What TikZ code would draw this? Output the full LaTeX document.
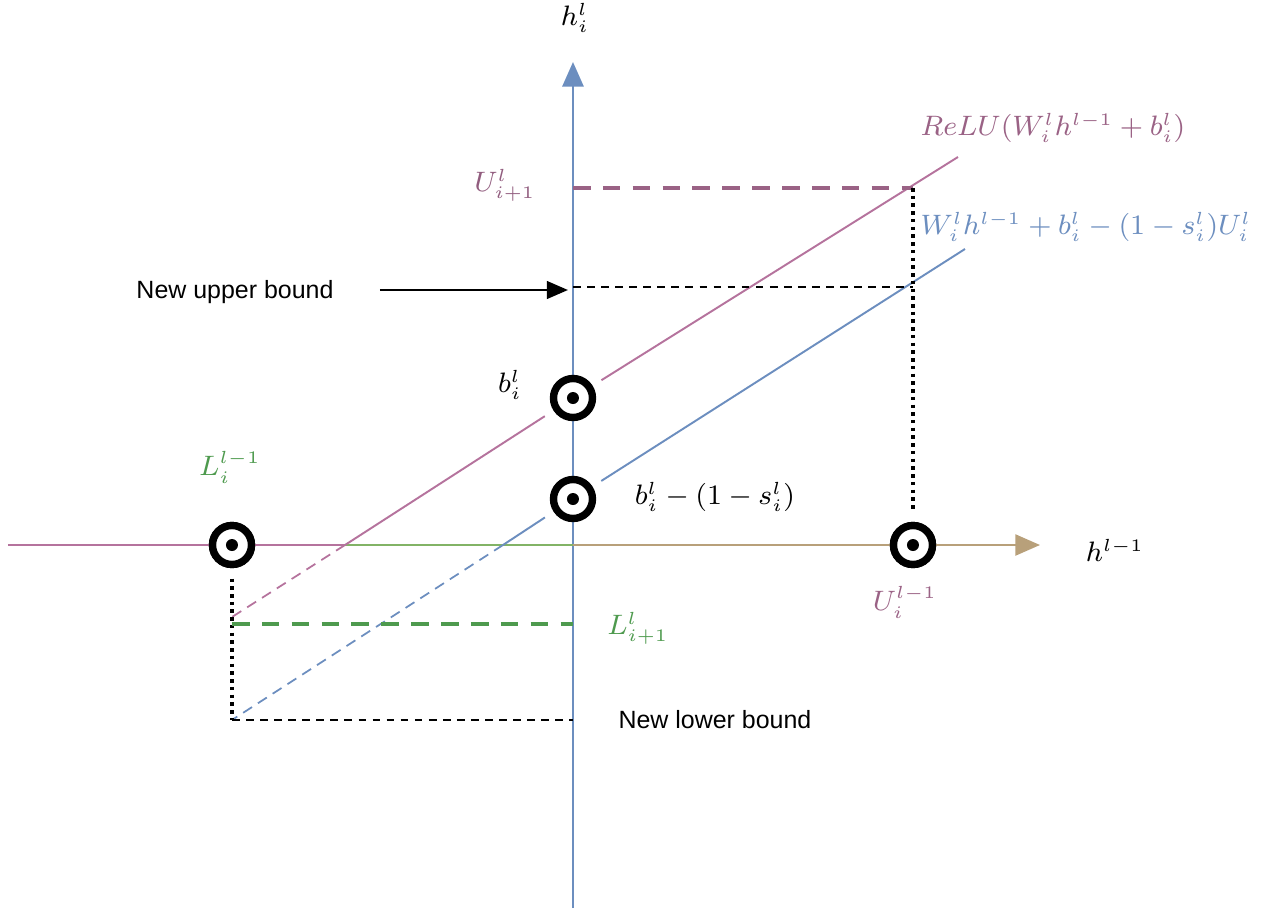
\documentclass[tikz,border=0pt]{standalone}
\usepackage{amsmath}
\usepackage{fontspec}
\newfontfamily\labelfont{Liberation Sans}
\usetikzlibrary{arrows.meta,positioning}
\definecolor{relu}{HTML}{B5739D}
\definecolor{lin}{HTML}{6C8EBF}
\definecolor{grn}{HTML}{82B366}
\definecolor{grnd}{HTML}{4E9A4E}
\definecolor{tan}{HTML}{B8A07A}

\begin{document}
\begin{tikzpicture}[every node/.style={font=\fontsize{7.8}{9.5}\selectfont},
  ax/.style={line width=0.75pt},
  pl/.style={line width=0.55pt},
  ext/.style={line width=0.5pt,dash pattern=on 3pt off 2pt},
  bnd/.style={line width=1.3pt,dash pattern=on 5pt off 3.5pt},
  gd/.style={line width=0.6pt,dash pattern=on 2.2pt off 1.8pt},
  vd/.style={line width=0.9pt,dash pattern=on 1pt off 1.2pt},
  pt/.style={circle,draw,line width=2.1pt,fill=white,minimum size=0.39cm,inner sep=0pt,outer sep=4pt,
    path picture={\fill[black] (path picture bounding box.center) circle (0.06);}},
  txt/.style={font=\labelfont\fontsize{7.1}{9}\selectfont}]
\useasboundingbox (-5.73,-3.66) rectangle (6.93,5.45);
\def\xl{-3.41}\def\xu{3.40}\def\yub{3.57}\def\ynu{2.58}\def\ylb{-0.79}\def\ynl{-1.75}
%------------- axes
\draw[ax,lin,-{Triangle[length=7pt,width=6pt]}] (0,-3.63) -- (0,4.83) coordinate (ytip);
\node (hy) at (0.02,5.27) {$h^l_i$};
\coordinate (O) at (0,0);
\coordinate (K) at (-2.28,0);
\coordinate (xs) at (-5.65,0);
\coordinate (xe) at (4.67,0);
\node[pt] (L) at (\xl,0) {};
\node[pt] (U) at (\xu,0) {};
\node[pt] (b) at (0,1.47) {};
\node[pt] (bs) at (0,0.46) {};
\node (hx) at (5.42,-0.05) {$h^{l-1}$};
%------------- relu and relaxed line
\coordinate (rtop) at (3.85,3.88);
\coordinate (btop) at (3.92,2.96);
\coordinate (bz) at (-0.70,0);
\coordinate (bbot) at (\xl,\ynl);
\coordinate (rbot) at (\xl,-0.72);
\draw[pl,relu] (xs) -- (L.center); \draw[pl,relu] (L.center) -- (K);
\draw[pl,grn] (K) -- (O);
\draw[pl,tan] (O) -- (U.center);
\draw[pl,tan,-{Triangle[length=7pt,width=6pt]}] (U.center) -- (xe);
\draw[pl,relu] (K) -- (b); \draw[pl,relu] (b) -- (rtop);
\draw[pl,lin] (bz) -- (bs); \draw[pl,lin] (bs) -- (btop);
\draw[ext,relu] (K) -- (rbot);
\draw[ext,lin] (bz) -- (bbot);
%------------- bounds
\coordinate (ubl) at (0,\yub); \coordinate (ubr) at (\xu,\yub);
\coordinate (nul) at (0,\ynu); \coordinate (nur) at (\xu,\ynu);
\coordinate (lbl) at (\xl,\ylb); \coordinate (lbr) at (0,\ylb);
\coordinate (nlr) at (0,\ynl);
\draw[bnd,relu!85!black] (ubl) -- (ubr);
\draw[vd] (ubr) -- (U);
\draw[gd] (nul) -- (nur);
\draw[vd] (L) -- (bbot);
\draw[gd] (bbot) -- (nlr);
\draw[bnd,grnd] (lbl) -- (lbr);
%------------- redraw markers over the axis lines
\node[pt] at (L) {}; \node[pt] at (U) {};
%------------- labels
\node[txt] (nub) at (-3.38,2.53) {New upper bound};
\coordinate (nua) at (-0.05,2.55);
\draw[line width=0.7pt,-{Triangle[length=6pt,width=5pt]}] (-1.93,2.55) -- (nua);
\node[txt] (nlb) at (1.42,-1.75) {New lower bound};
\node[text=relu!80!black] (lU1) at (-0.68,3.60) {$U^l_{i+1}$};
\node[text=grnd] (lL1) at (0.65,-0.83) {$L^l_{i+1}$};
\node[text=grnd] (lL) at (-3.43,0.78) {$L^{l-1}_i$};
\node[text=relu!85!black] (lU) at (3.32,-0.57) {$U^{l-1}_i$};
\node (lb) at (-0.63,1.60) {$b^l_i$};
\node (lbs) at (1.42,0.48) {$b^l_i-(1-s^l_i)$};
\node[text=relu!85!black,anchor=west,inner xsep=0pt] (lrelu) at (3.47,4.17) {$ReLU(W^l_i h^{l-1}+b^l_i)$};
\node[text=lin,anchor=west,inner xsep=0pt] (llin) at (3.47,3.18) {$W^l_i h^{l-1}+b^l_i-(1-s^l_i)U^l_i$};
\end{tikzpicture}
\end{document}
